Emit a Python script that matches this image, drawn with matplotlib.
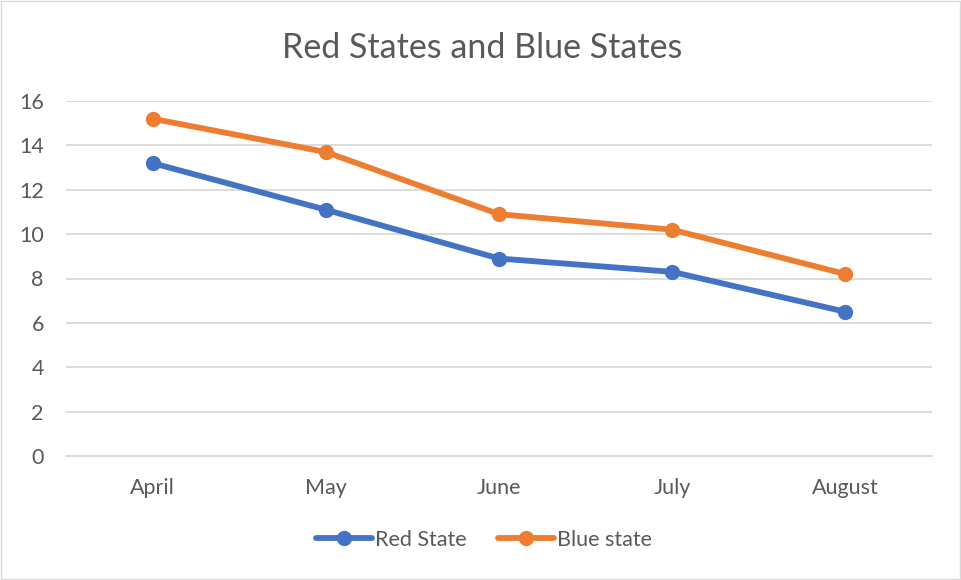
import matplotlib
matplotlib.use("Agg")
import matplotlib.pyplot as plt
from matplotlib.patches import Rectangle

months = ["April", "May", "June", "July", "August"]
red_state = [13.2, 11.1, 8.9, 8.3, 6.5]
blue_state = [15.2, 13.7, 10.9, 10.2, 8.2]
yticks = [0, 2, 4, 6, 8, 10, 12, 14, 16]

plt.rcParams['font.family'] = ['Lato', 'DejaVu Sans']
TXT = '#595959'
GRID = '#D9D9D9'

fig = plt.figure(figsize=(9.62, 5.8), dpi=100)
fig.patches.append(Rectangle((0.001, 0.001), 0.997, 0.997, transform=fig.transFigure,
                             fill=False, edgecolor=GRID, linewidth=1.0))
ax = fig.add_axes([66/962, 124/580, 866/962, 355/580])

x = list(range(len(months)))
ax.plot(x, red_state, color='#4472C4', linewidth=4.2, marker='o', markersize=10,
        solid_capstyle='round', label='Red State', zorder=3)
ax.plot(x, blue_state, color='#ED7D31', linewidth=4.2, marker='o', markersize=10,
        solid_capstyle='round', label='Blue state', zorder=3)

ax.set_xlim(-0.5, len(months) - 0.5)
ax.set_ylim(0, 16)
ax.set_yticks(yticks)
ax.set_xticks(x)
ax.set_xticklabels(months)
ax.grid(axis='y', color=GRID, linewidth=1.3)
ax.set_axisbelow(True)
for s in ['top', 'right', 'left']:
    ax.spines[s].set_visible(False)
ax.spines['bottom'].set_color(GRID)
ax.spines['bottom'].set_linewidth(1.3)
ax.tick_params(axis='both', length=0, labelsize=15.5, labelcolor=TXT)
ax.tick_params(axis='x', pad=16)
ax.tick_params(axis='y', pad=16)

fig.text(482/962, 1 - 48/580, "Red States and Blue States", ha='center', va='center',
         fontsize=24.5, color=TXT)

leg = fig.legend(loc='center', bbox_to_anchor=(484/962, 1 - 540/580), ncol=2,
                 frameon=False, fontsize=15.5, labelcolor=TXT, handlelength=2.6,
                 handletextpad=0.1, columnspacing=1.5)

fig.savefig("out.png", dpi=100)
